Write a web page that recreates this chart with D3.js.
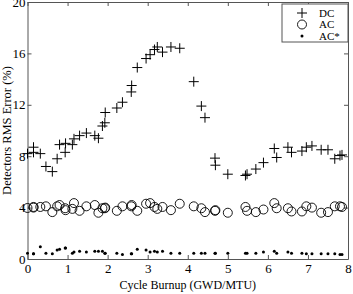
<!DOCTYPE html>
<html>
<head>
<meta charset="utf-8">
<script src="https://cdn.jsdelivr.net/npm/d3@7"></script>
<style>
  body { margin: 0; background: #fff; }
  text { font-family: "Liberation Serif", "DejaVu Serif", serif; }
</style>
</head>
<body>
<div id="chart_container"></div>
<script>
// burnup points (GWD/MTU), shared by all three series
var burnup = [0, 0.15, 0.15, 0.32, 0.46, 0.62, 0.74, 0.8, 0.94, 0.95,
  1.12, 1.16, 1.3, 1.47, 1.68, 1.77, 1.87, 1.93, 1.94, 2.23,
  2.37, 2.59, 2.6, 2.74, 2.96, 3.06, 3.17, 3.24, 3.37, 3.58,
  3.8, 4.15, 4.34, 4.43, 4.68, 4.69, 5.0, 5.44, 5.48, 5.7,
  5.89, 6.16, 6.22, 6.5, 6.59, 6.85, 6.96, 7.1, 7.33, 7.5,
  7.67, 7.8, 7.85];
var dcErr = [8.2, 8.7, 8.3, 8.2, 7.2, 6.8, 7.8, 8.9, 8.3, 9.0,
  8.9, 9.35, 9.6, 9.8, 9.6, 9.4, 10.35, 10.6, 11.4, 11.75,
  12.2, 13.0, 13.5, 14.9, 15.6, 15.9, 16.3, 16.5, 16.1, 16.5,
  16.4, 13.8, 11.9, 11.0, 7.85, 7.3, 6.6, 6.5, 6.6, 7.0,
  7.5, 8.6, 7.9, 8.7, 8.3, 8.4, 8.7, 8.8, 8.5, 8.5,
  7.8, 8.05, 8.1];
var acErr = [3.97, 4.05, 4.0, 4.05, 4.1, 3.65, 4.1, 4.2, 3.95, 3.8,
  3.9, 4.35, 3.75, 4.1, 4.2, 3.6, 3.95, 3.95, 4.0, 3.75,
  4.1, 4.1, 4.2, 3.75, 4.3, 4.35, 4.05, 3.9, 4.05, 3.8,
  4.3, 4.1, 3.95, 3.65, 3.75, 3.8, 3.6, 4.05, 3.75, 3.65,
  3.85, 4.35, 3.95, 3.95, 3.7, 3.7, 4.1, 4.0, 3.6, 3.65,
  4.1, 4.1, 4.05];
var acStarErr = [0.45, 0.4, 0.4, 0.95, 0.45, 0.4, 0.7, 0.75, 0.85, 0.85,
  0.45, 0.55, 0.6, 0.55, 0.6, 0.6, 0.6, 0.45, 0.45, 0.45,
  0.35, 0.4, 0.4, 0.75, 0.7, 0.55, 0.6, 0.55, 0.6, 0.45,
  0.45, 0.45, 0.45, 0.45, 0.45, 0.45, 0.45, 0.45, 0.45, 0.45,
  0.55, 0.6, 0.45, 0.55, 0.45, 0.45, 0.4, 0.4, 0.4, 0.4,
  0.4, 0.35, 0.35];
var xTicks = [0, 1, 2, 3, 4, 5, 6, 7, 8];
var yTicks = [0, 4, 8, 12, 16, 20];
var legendLabels = ["DC", "AC", "AC*"];

var margin = { top: 2, right: 5, bottom: 35, left: 27.5 },
    width = 353 - margin.left - margin.right,
    height = 294 - margin.top - margin.bottom;

var x = d3.scaleLinear().domain([0, 8]).range([0, width]);
var y = d3.scaleLinear().domain([0, 20]).range([height, 0]);

var svg = d3.select("#chart_container").append("svg")
    .attr("width", 353)
    .attr("height", 294)
    .append("g")
    .attr("transform", "translate(" + margin.left + "," + margin.top + ")");

// axes, ticks pointing inward, box on all sides
function styleAxis(g) {
    g.select(".domain").attr("stroke", "#555");
    g.selectAll(".tick line").attr("stroke", "#555");
    g.selectAll(".tick text").attr("font-size", 13).attr("fill", "#000")
        .attr("font-family", "Liberation Serif, serif");
}
svg.append("g")
    .attr("transform", "translate(0," + height + ")")
    .call(d3.axisBottom(x).tickValues(xTicks).tickSizeInner(-4).tickSizeOuter(0).tickPadding(5))
    .call(styleAxis);
svg.append("g")
    .call(d3.axisLeft(y).tickValues(yTicks).tickSizeInner(-4).tickSizeOuter(0).tickPadding(2))
    .call(styleAxis);
svg.append("g")
    .call(d3.axisTop(x).tickValues(xTicks).tickSizeInner(-4).tickSizeOuter(0).tickFormat(""))
    .call(styleAxis);
svg.append("g")
    .attr("transform", "translate(" + width + ",0)")
    .call(d3.axisRight(y).tickValues(yTicks).tickSizeInner(-4).tickSizeOuter(0).tickFormat(""))
    .call(styleAxis);

// axis labels
svg.append("text")
    .attr("x", width / 2)
    .attr("y", height + 30)
    .attr("text-anchor", "middle")
    .attr("font-size", 12)
    .text("Cycle Burnup (GWD/MTU)");
svg.append("text")
    .attr("transform", "translate(-17," + (height / 2) + ") rotate(-90)")
    .attr("text-anchor", "middle")
    .attr("font-size", 12.5)
    .text("Detectors RMS Error (%)");

function plusPath(s) {
    return "M" + (-s) + ",0H" + s + "M0," + (-s) + "V" + s;
}

// DC markers
svg.append("g").selectAll("path")
    .data(burnup.map(function(b, i) { return [b, dcErr[i]]; }))
    .enter().append("path")
    .attr("transform", function(d) { return "translate(" + x(d[0]) + "," + y(d[1]) + ")"; })
    .attr("d", plusPath(5))
    .attr("stroke", "#000")
    .attr("stroke-width", 1)
    .attr("fill", "none");

// AC markers
svg.append("g").selectAll("circle")
    .data(burnup.map(function(b, i) { return [b, acErr[i]]; }))
    .enter().append("circle")
    .attr("cx", function(d) { return x(d[0]); })
    .attr("cy", function(d) { return y(d[1]); })
    .attr("r", 4.5)
    .attr("stroke", "#000")
    .attr("stroke-width", 0.9)
    .attr("fill", "none");

// AC* markers
svg.append("g").selectAll("circle")
    .data(burnup.map(function(b, i) { return [b, acStarErr[i]]; }))
    .enter().append("circle")
    .attr("cx", function(d) { return x(d[0]); })
    .attr("cy", function(d) { return y(d[1]); })
    .attr("r", 1.5)
    .attr("fill", "#000");

// legend
var lg = svg.append("g").attr("transform", "translate(" + (width - 66) + ",2)");
lg.append("rect")
    .attr("width", 66).attr("height", 38)
    .attr("fill", "#fff").attr("stroke", "#555");
legendLabels.forEach(function(lbl, i) {
    var cy = 9 + i * 11.5;
    if (i === 0) {
        lg.append("path").attr("transform", "translate(20," + cy + ")")
            .attr("d", plusPath(5)).attr("stroke", "#000").attr("fill", "none");
    } else if (i === 1) {
        lg.append("circle").attr("cx", 20).attr("cy", cy).attr("r", 4.5)
            .attr("stroke", "#000").attr("stroke-width", 0.9).attr("fill", "none");
    } else {
        lg.append("circle").attr("cx", 20).attr("cy", cy).attr("r", 1.5).attr("fill", "#000");
    }
    lg.append("text").attr("x", 37).attr("y", cy + 3.5)
        .attr("font-size", 11).text(lbl);
});
</script>
</body>
</html>
